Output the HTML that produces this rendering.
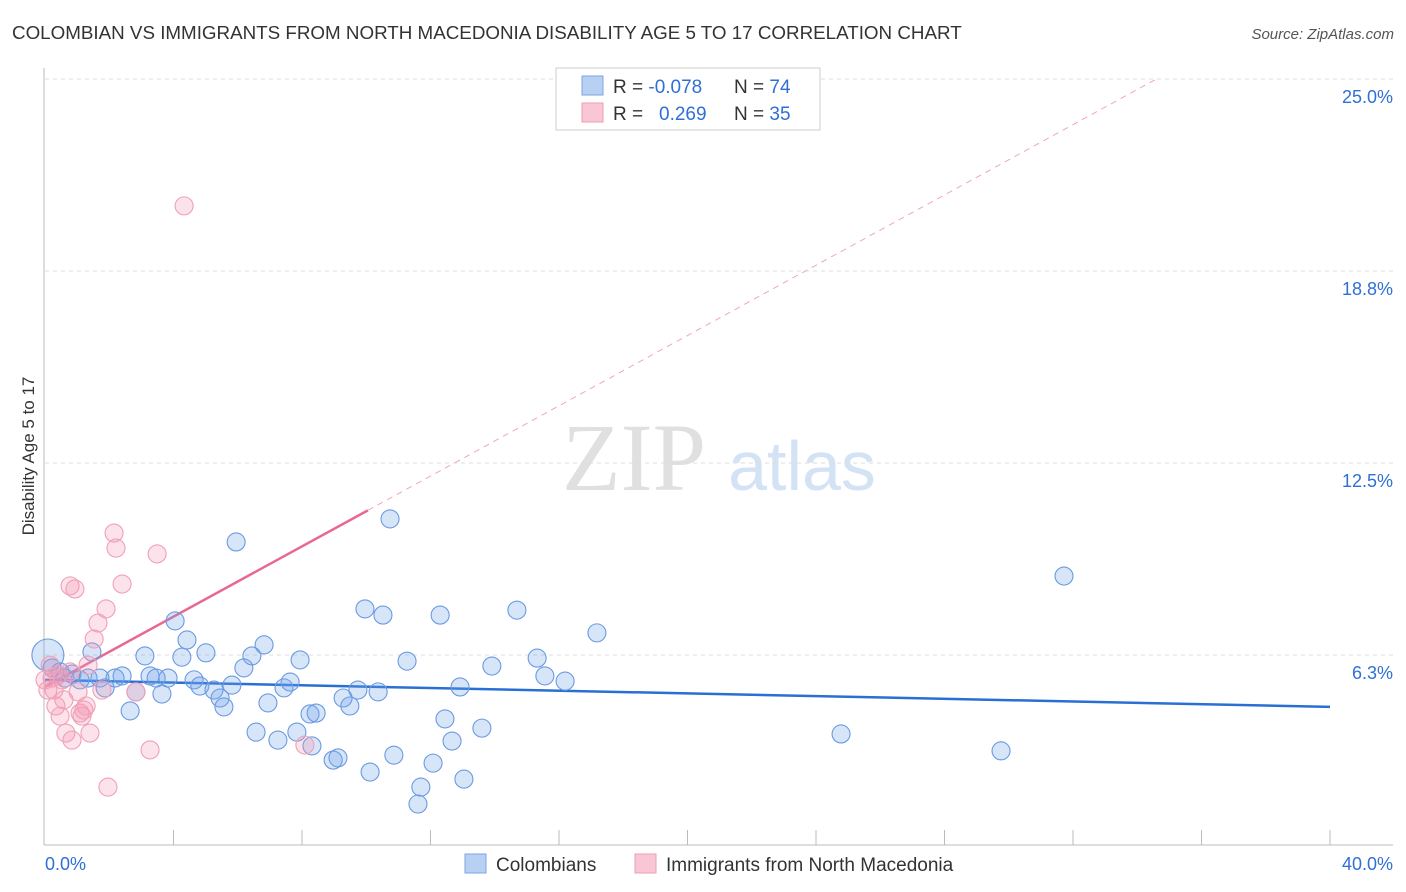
<!DOCTYPE html>
<html><head><meta charset="utf-8"><style>
body{margin:0;background:#fff;font-family:"Liberation Sans",sans-serif;}
svg{display:block}
</style></head><body>
<svg id="c" width="1406" height="892">
<text x="12" y="39" font-size="18.8" fill="#333">COLOMBIAN VS IMMIGRANTS FROM NORTH MACEDONIA DISABILITY AGE 5 TO 17 CORRELATION CHART</text>
<text x="1394" y="39" font-size="15" fill="#555" font-style="italic" text-anchor="end">Source: ZipAtlas.com</text>
<text x="34" y="456" font-size="17" fill="#333" text-anchor="middle" transform="rotate(-90 34 456)">Disability Age 5 to 17</text>
<g><text x="634" y="490" font-size="96" font-family="Liberation Serif,serif" fill="#e0e0e0" text-anchor="middle">ZIP</text><text x="802" y="490" font-size="70" fill="#d3e2f4" text-anchor="middle">atlas</text></g>
<g id="grid"></g><g id="axes"></g><g id="lines"></g><g id="pts"></g>
<g>
<rect x="556" y="68" width="264" height="62" fill="#fff" stroke="#ccc"/>
<rect x="582" y="76" width="21" height="19" fill="#b8d1f3" stroke="#7aa5e6"/>
<rect x="582" y="103" width="21" height="19" fill="#f9c6d5" stroke="#ee9db6"/>
<text x="613" y="93" font-size="19" fill="#333">R = <tspan fill="#2f6fd6">-0.078</tspan></text>
<text x="734" y="93" font-size="19" fill="#333">N = <tspan fill="#2f6fd6">74</tspan></text>
<text x="613" y="120" font-size="19" fill="#333">R = <tspan fill="#2f6fd6" x="659">0.269</tspan></text>
<text x="734" y="120" font-size="19" fill="#333">N = <tspan fill="#2f6fd6">35</tspan></text>
</g>
<g>
<rect x="465" y="854" width="21" height="19" fill="#b8d1f3" stroke="#7aa5e6"/>
<text x="496" y="871" font-size="19" fill="#333">Colombians</text>
<rect x="635" y="854" width="21" height="19" fill="#f9c6d5" stroke="#ee9db6"/>
<text x="666" y="871" font-size="19" fill="#333">Immigrants from North Macedonia</text>
</g>
</svg>
<script>
const yTicks=[6.3,12.5,18.8,25.0];
const yTickVals=[6.25,12.5,18.75,25];
const xTickLabels=["0.0%","40.0%"];
const blueX=[0.09,0.22,0.47,0.62,0.84,1.09,1.34,1.46,1.71,1.87,2.18,2.40,2.65,2.83,3.11,3.27,3.46,3.64,3.83,4.05,4.26,4.42,4.64,4.82,5.01,5.26,5.45,5.57,5.82,5.95,6.19,6.44,6.57,6.82,6.94,7.25,7.44,7.63,7.84,7.94,8.25,8.31,8.44,8.97,9.12,9.28,9.49,9.74,9.96,10.12,10.37,10.52,10.74,10.86,11.27,11.61,11.70,12.08,12.30,12.45,12.67,12.92,13.04,13.60,13.91,14.69,15.32,15.56,16.19,17.18,24.78,29.76,31.72];
const blueY=[6.25,5.83,5.70,5.50,5.63,5.44,5.50,6.35,5.50,5.18,5.50,5.57,4.43,5.05,6.22,5.57,5.50,4.98,5.50,7.36,6.18,6.74,5.44,5.24,6.32,5.11,4.85,4.56,5.27,9.93,5.83,6.22,3.74,6.58,4.69,3.48,5.18,5.37,3.74,6.09,4.33,3.29,4.36,2.83,2.90,4.85,4.59,5.11,7.75,2.44,5.05,7.55,10.68,2.99,6.05,1.40,1.95,2.73,7.55,4.17,3.45,5.21,2.21,3.87,5.89,7.71,6.15,5.57,5.40,6.97,3.68,3.13,8.82];
const pinkX=[0.16,0.22,0.28,0.34,0.40,0.47,0.59,0.65,0.78,0.84,0.93,1.03,1.09,1.15,1.21,1.34,1.40,1.53,1.65,1.77,1.90,1.96,2.15,2.21,2.40,2.83,3.27,3.49,4.33,8.09,0.09,0.53,0.78,1.28,0.00];
const pinkY=[5.92,5.50,5.11,4.59,5.60,4.26,4.79,3.71,8.50,3.48,8.40,5.05,4.36,4.26,4.46,5.92,3.71,6.77,7.29,5.11,7.75,1.95,10.22,9.73,8.56,5.05,3.16,9.54,20.87,3.32,5.11,5.44,5.70,4.59,5.44];
const blueTrend=[5.44,-0.022]; // intercept, slope
const pinkTrend=[5.21,0.572];
const X=v=>45+v*32.125, Y=v=>847-v*30.72;
const NS="http://www.w3.org/2000/svg";
function mk(p,t,a){const e=document.createElementNS(NS,t);for(const k in a)e.setAttribute(k,a[k]);p.appendChild(e);return e;}
const grid=document.getElementById('grid'),axes=document.getElementById('axes'),lines=document.getElementById('lines'),pts=document.getElementById('pts');
yTickVals.forEach((v,i)=>{
 const l=mk(grid,'line',{x1:45,x2:1393,y1:Y(v),y2:Y(v),stroke:'#ddd','stroke-dasharray':'4 4'});
 
 
 const t=mk(axes,'text',{x:1393,y:Y(v)+24,'font-size':18,fill:'#2f6fd6','text-anchor':'end'});
 t.textContent=yTicks[i].toFixed(1)+'%';
 
 
});
mk(axes,'line',{x1:44,x2:44,y1:68,y2:845,stroke:'#bbb'});
mk(axes,'line',{x1:44,x2:1393,y1:845,y2:845,stroke:'#bbb'});
for(let i=1;i<=10;i++){const tk=mk(axes,'line',{x1:X(i*4),x2:X(i*4),y1:830,y2:845,stroke:'#bbb'});
 
 }
[[45,'start',0],[1393,'end',1]].forEach(([x,a,i])=>{const t=mk(axes,'text',{x:x,y:870,'font-size':18,fill:'#2f6fd6','text-anchor':a});t.textContent=xTickLabels[i];
 
 });
const bl=mk(lines,'line',{x1:X(0),y1:Y(blueTrend[0]),x2:X(40),y2:Y(blueTrend[0]+40*blueTrend[1]),stroke:'#2a6fd4','stroke-width':2.5});


const xEnd=(25-pinkTrend[0])/pinkTrend[1];
const pd=mk(lines,'line',{x1:X(10.05),y1:Y(pinkTrend[0]+10.05*pinkTrend[1]),x2:X(xEnd),y2:Y(25),stroke:'#f0a6bd','stroke-width':1,'stroke-dasharray':'6 5'});


const pl=mk(lines,'line',{x1:X(0),y1:Y(pinkTrend[0]),x2:X(10.05),y2:Y(pinkTrend[0]+10.05*pinkTrend[1]),stroke:'#e86892','stroke-width':2.5});


blueX.forEach((x,i)=>{const c=mk(pts,'circle',{cx:X(x),cy:Y(blueY[i]),r:i==0?16:9,fill:'rgba(110,160,235,0.28)',stroke:'#6a9ae2','stroke-width':1.1});
 
 });
pinkX.forEach((x,i)=>{const c=mk(pts,'circle',{cx:X(x),cy:Y(pinkY[i]),r:9,fill:'rgba(245,150,180,0.28)',stroke:'#f0a0b8','stroke-width':1.1});
 
 });
</script>
</body></html>
